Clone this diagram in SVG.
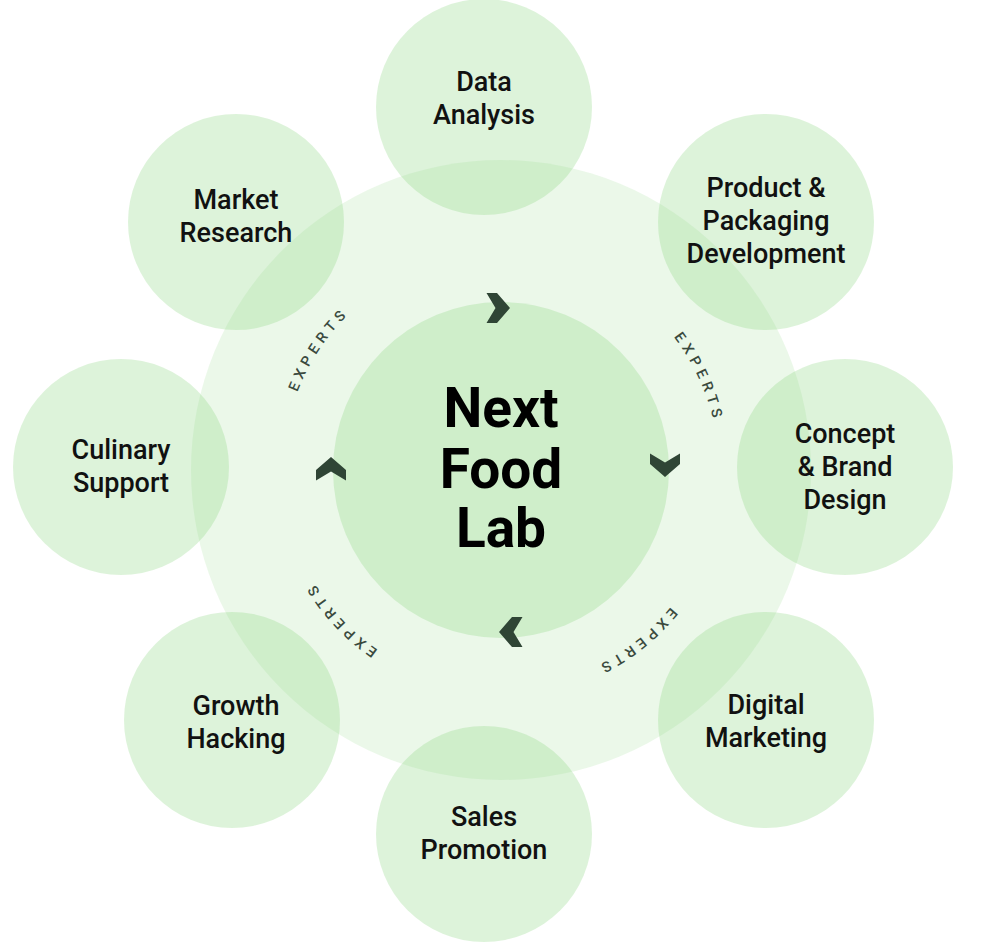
<svg xmlns="http://www.w3.org/2000/svg" xmlns:xlink="http://www.w3.org/1999/xlink" width="1003" height="944" viewBox="0 0 1003 944">
<style>
.big{fill:#8fd685;fill-opacity:0.18}
.inner{fill:#8fd685;fill-opacity:0.3}
.node{fill:#8fd685;fill-opacity:0.3}
.lbl{font-family:Roboto,"Liberation Sans",sans-serif;font-size:27px;font-weight:500;fill:#111;text-anchor:middle}
.center{font-family:Roboto,"Liberation Sans",sans-serif;font-size:55px;font-weight:700;fill:#000;text-anchor:middle}
.exp{font-family:Roboto,"Liberation Sans",sans-serif;font-size:14.5px;font-weight:500;fill:#3a4a3e;letter-spacing:5px}
.chev{fill:#2f4535}
</style>
<defs>
<path id="ring" d="M719,470 A218,218 0 1 1 283,470 A218,218 0 1 1 719,470"/>
<polygon id="chevron" points="-11.5,-15 -1,-15 12,0 -1,15 -11.5,15 -2.5,0"/>
</defs>
<g id="background-rings">
<circle class="big" cx="501" cy="470" r="310"/>
</g>
<g id="node-data-analysis">
<circle class="node" cx="484" cy="107" r="108"/>
<text class="lbl" x="484" y="91">Data</text>
<text class="lbl" x="484" y="124">Analysis</text>
</g>
<g id="node-product-packaging">
<circle class="node" cx="766" cy="222" r="108"/>
<text class="lbl" x="766" y="197">Product &amp;</text>
<text class="lbl" x="766" y="230">Packaging</text>
<text class="lbl" x="766" y="263">Development</text>
</g>
<g id="node-concept-brand">
<circle class="node" cx="845" cy="467" r="108"/>
<text class="lbl" x="845" y="443">Concept</text>
<text class="lbl" x="845" y="476">&amp; Brand</text>
<text class="lbl" x="845" y="509">Design</text>
</g>
<g id="node-digital-marketing">
<circle class="node" cx="766" cy="720" r="108"/>
<text class="lbl" x="766" y="714">Digital</text>
<text class="lbl" x="766" y="747">Marketing</text>
</g>
<g id="node-sales-promotion">
<circle class="node" cx="484" cy="834" r="108"/>
<text class="lbl" x="484" y="826">Sales</text>
<text class="lbl" x="484" y="859">Promotion</text>
</g>
<g id="node-growth-hacking">
<circle class="node" cx="232" cy="720" r="108"/>
<text class="lbl" x="236" y="715">Growth</text>
<text class="lbl" x="236" y="748">Hacking</text>
</g>
<g id="node-culinary-support">
<circle class="node" cx="121" cy="467" r="108"/>
<text class="lbl" x="121" y="459">Culinary</text>
<text class="lbl" x="121" y="492">Support</text>
</g>
<g id="node-market-research">
<circle class="node" cx="236" cy="222" r="108"/>
<text class="lbl" x="236" y="209">Market</text>
<text class="lbl" x="236" y="242">Research</text>
</g>
<g id="node-center">
<circle class="inner" cx="501" cy="470" r="168"/>
<text class="center" x="501" y="427">Next</text>
<text class="center" x="501" y="488">Food</text>
<text class="center" x="501" y="547">Lab</text>
</g>
<g id="connectors">
<use href="#chevron" class="chev" transform="translate(498,308)"/>
<use href="#chevron" class="chev" transform="translate(665,465) rotate(90)"/>
<use href="#chevron" class="chev" transform="translate(511,632) rotate(180)"/>
<use href="#chevron" class="chev" transform="translate(331,469) rotate(-90)"/>
<text class="exp"><textPath href="#ring" startOffset="1274" text-anchor="middle">EXPERTS</textPath></text>
<text class="exp"><textPath href="#ring" startOffset="196" text-anchor="middle">EXPERTS</textPath></text>
<text class="exp"><textPath href="#ring" startOffset="521" text-anchor="middle">EXPERTS</textPath></text>
<text class="exp"><textPath href="#ring" startOffset="812" text-anchor="middle">EXPERTS</textPath></text>
</g>
</svg>
